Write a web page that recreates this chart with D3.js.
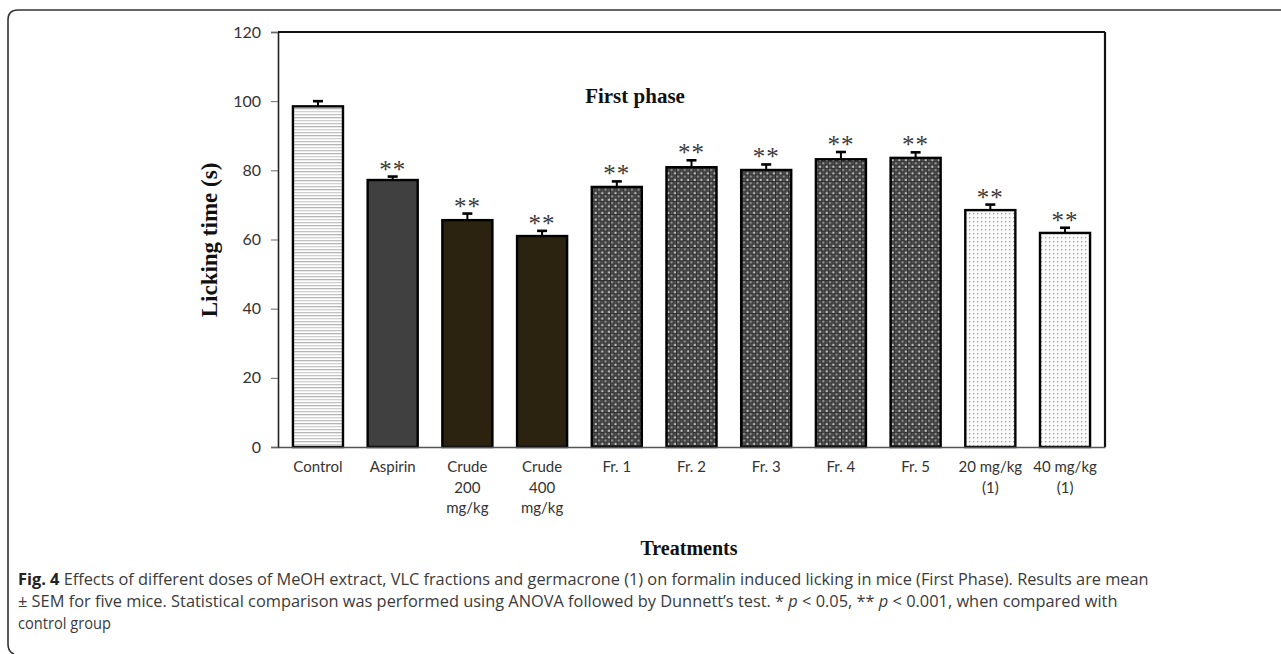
<!DOCTYPE html>
<html>
<head>
<meta charset="utf-8">
<script src="https://cdn.jsdelivr.net/npm/d3@7"></script>
<style>
  body { margin: 0; background: #fff; }
  svg { display: block; }
</style>
</head>
<body>
<svg id="svg" width="1281" height="654"></svg>
<script>
// data
const categories = ["Control", "Aspirin", "Crude\n200\nmg/kg", "Crude\n400\nmg/kg", "Fr. 1", "Fr. 2", "Fr. 3", "Fr. 4", "Fr. 5", "20 mg/kg\n(1)", "40 mg/kg\n(1)"];
const means = [98.5, 77.2, 65.6, 61.0, 75.2, 80.9, 80.1, 83.2, 83.6, 68.5, 61.9];
const sem = [1.5, 1.0, 1.9, 1.5, 1.6, 2.0, 1.6, 2.1, 1.6, 1.6, 1.5];
const marks = ["", "**", "**", "**", "**", "**", "**", "**", "**", "**", "**"];
const fills = ["url(#hlines)", "#404040", "#2b2310", "#2b2310", "url(#checker)", "url(#checker)", "url(#checker)", "url(#checker)", "url(#checker)", "url(#dots)", "url(#dots)"];
const yTicks = [0, 20, 40, 60, 80, 100, 120];

const svg = d3.select("#svg");

// outer frame of the figure
svg.append("path")
   .attr("d", "M1281,10 L18,10 Q8,10 8,20 L8,644 Q8,652 14,654")
   .attr("fill", "none")
   .attr("stroke", "#333")
   .attr("stroke-width", 1.6);

// patterns
const defs = svg.append("defs");
const hl = defs.append("pattern").attr("id", "hlines")
   .attr("patternUnits", "userSpaceOnUse").attr("width", 8).attr("height", 9);
hl.append("rect").attr("width", 8).attr("height", 9).attr("fill", "#fff");
hl.append("rect").attr("y", 0).attr("width", 8).attr("height", 1.3).attr("fill", "#b5b5b5");
hl.append("rect").attr("y", 3).attr("width", 8).attr("height", 1.3).attr("fill", "#d0d0d0");
hl.append("rect").attr("y", 6).attr("width", 8).attr("height", 1.3).attr("fill", "#c2c2c2");

const ck = defs.append("pattern").attr("id", "checker")
   .attr("patternUnits", "userSpaceOnUse").attr("width", 6.6).attr("height", 6.6);
ck.append("rect").attr("width", 6.6).attr("height", 6.6).attr("fill", "#303030");
ck.append("rect").attr("x", 0.6).attr("y", 0.6).attr("width", 2.2).attr("height", 2.2).attr("fill", "#c4c4c4");
ck.append("rect").attr("x", 3.9).attr("y", 3.9).attr("width", 2.2).attr("height", 2.2).attr("fill", "#9a9a9a");
ck.append("rect").attr("x", 3.9).attr("y", 0.6).attr("width", 2.2).attr("height", 2.2).attr("fill", "#555");
ck.append("rect").attr("x", 0.6).attr("y", 3.9).attr("width", 2.2).attr("height", 2.2).attr("fill", "#555");

const dt = defs.append("pattern").attr("id", "dots")
   .attr("patternUnits", "userSpaceOnUse").attr("width", 4).attr("height", 4);
dt.append("rect").attr("width", 4).attr("height", 4).attr("fill", "#fafafa");
dt.append("rect").attr("x", 1).attr("y", 1).attr("width", 1.3).attr("height", 1.3).attr("fill", "#a0a0a0");

// plot area
const pLeft = 278, pRight = 1105, pTop = 32, pBottom = 447;

const x = d3.scaleBand()
  .domain(categories)
  .range([pLeft, pRight])
  .paddingInner(0.33)
  .paddingOuter(0.2);

const y = d3.scaleLinear()
  .domain([0, 120])
  .range([pBottom, pTop]);

// y axis
const yAxis = svg.append("g")
  .attr("transform", `translate(${pLeft},0)`)
  .call(d3.axisLeft(y).tickValues(yTicks).tickSize(7).tickPadding(10));
yAxis.select(".domain").attr("stroke", "#222").attr("stroke-width", 1.6);
yAxis.selectAll(".tick line").attr("stroke", "#666");
yAxis.selectAll(".tick text")
  .attr("font-family", "Lato, 'Open Sans', sans-serif")
  .attr("font-size", 16)
  .attr("fill", "#333");

// top and right border of the plot
svg.append("line").attr("x1", pLeft).attr("x2", pRight).attr("y1", pTop).attr("y2", pTop)
  .attr("stroke", "#111").attr("stroke-width", 2.2);
svg.append("line").attr("x1", pRight).attr("x2", pRight).attr("y1", pTop).attr("y2", pBottom)
  .attr("stroke", "#111").attr("stroke-width", 2.2);

// bars
svg.append("g").selectAll("rect")
  .data(categories)
  .join("rect")
  .attr("x", d => x(d))
  .attr("y", (d, i) => y(means[i]))
  .attr("width", x.bandwidth())
  .attr("height", (d, i) => y(0) - y(means[i]))
  .attr("fill", (d, i) => fills[i])
  .attr("stroke", "#000")
  .attr("stroke-width", 2.4);

// bottom axis
const xAxis = svg.append("g")
  .attr("transform", `translate(0,${pBottom})`)
  .call(d3.axisBottom(x).tickSize(0).tickFormat(""));
xAxis.select(".domain").attr("stroke", "#555").attr("stroke-width", 1.4);

// tick labels, multi line
const lab = svg.append("g").selectAll("text")
  .data(categories)
  .join("text")
  .attr("x", d => x(d) + x.bandwidth() / 2)
  .attr("y", 472)
  .attr("text-anchor", "middle")
  .attr("font-family", "Lato, 'Open Sans', sans-serif")
  .attr("font-size", 15)
  .attr("fill", "#333");
lab.selectAll("tspan")
  .data(d => d.split("\n").map(s => ({ s, cx: x(d) + x.bandwidth() / 2 })))
  .join("tspan")
  .attr("x", t => t.cx)
  .attr("dy", (t, j) => j === 0 ? 0 : 20.5)
  .text(t => t.s);

// error bars (upper only)
const eb = svg.append("g").attr("stroke", "#000").attr("stroke-width", 2);
eb.selectAll("line.v")
  .data(categories)
  .join("line")
  .attr("class", "v")
  .attr("x1", d => x(d) + x.bandwidth() / 2)
  .attr("x2", d => x(d) + x.bandwidth() / 2)
  .attr("y1", (d, i) => y(means[i]))
  .attr("y2", (d, i) => y(means[i] + sem[i]));
eb.selectAll("line.c")
  .data(categories)
  .join("line")
  .attr("class", "c")
  .attr("x1", d => x(d) + x.bandwidth() / 2 - 5)
  .attr("x2", d => x(d) + x.bandwidth() / 2 + 5)
  .attr("y1", (d, i) => y(means[i] + sem[i]))
  .attr("y2", (d, i) => y(means[i] + sem[i]))
  .attr("stroke-width", 2.6);

// significance stars
svg.append("g").selectAll("text")
  .data(categories)
  .join("text")
  .attr("x", d => x(d) + x.bandwidth() / 2)
  .attr("y", (d, i) => y(means[i] + sem[i]) + 1)
  .attr("text-anchor", "middle")
  .attr("font-family", "'Liberation Serif', 'Times New Roman', serif")
  .attr("font-size", 25)
  .attr("fill", "#3a3a3a")
  .attr("letter-spacing", 1)
  .text((d, i) => marks[i]);

// titles
svg.append("text")
  .attr("x", 635).attr("y", 103)
  .attr("text-anchor", "middle")
  .attr("font-family", "'Liberation Serif', 'Times New Roman', serif")
  .attr("font-weight", "bold")
  .attr("font-size", 21)
  .attr("fill", "#111")
  .text("First phase");

svg.append("text")
  .attr("transform", "translate(217,240) rotate(-90)")
  .attr("text-anchor", "middle")
  .attr("font-family", "'Liberation Serif', 'Times New Roman', serif")
  .attr("font-weight", "bold")
  .attr("font-size", 23)
  .attr("fill", "#111")
  .text("Licking time (s)");

svg.append("text")
  .attr("x", 689).attr("y", 555)
  .attr("text-anchor", "middle")
  .attr("font-family", "'Liberation Serif', 'Times New Roman', serif")
  .attr("font-weight", "bold")
  .attr("font-size", 20)
  .attr("fill", "#111")
  .text("Treatments");

// caption
const capFont = "'Open Sans', 'Noto Sans', sans-serif";
const capLines = [
  { y: 585, w: 1132, parts: [["Fig. 4", "bold", "normal"], [" Effects of different doses of MeOH extract, VLC fractions and germacrone (1) on formalin induced licking in mice (First Phase). Results are mean", "normal", "normal"]] },
  { y: 607, w: 1100, parts: [["\u00b1 SEM for five mice. Statistical comparison was performed using ANOVA followed by Dunnett\u2019s test. * ", "normal", "normal"], ["p", "normal", "italic"], [" < 0.05, ** ", "normal", "normal"], ["p", "normal", "italic"], [" < 0.001, when compared with", "normal", "normal"]] },
  { y: 629, w: 93, parts: [["control group", "normal", "normal"]] }
];
capLines.forEach(line => {
  const t = svg.append("text")
    .attr("x", 0).attr("y", 0)
    .attr("font-family", capFont)
    .attr("font-size", 15.5)
    .attr("fill", "#333");
  line.parts.forEach(p => {
    t.append("tspan")
      .attr("font-weight", p[1])
      .attr("font-style", p[2])
      .attr("fill", p[1] === "bold" ? "#222" : "#3a3a3a")
      .text(p[0]);
  });
  const w = t.node().getComputedTextLength();
  t.attr("transform", `translate(18,${line.y}) scale(${line.w / w},1)`);
});
</script>
</body>
</html>
